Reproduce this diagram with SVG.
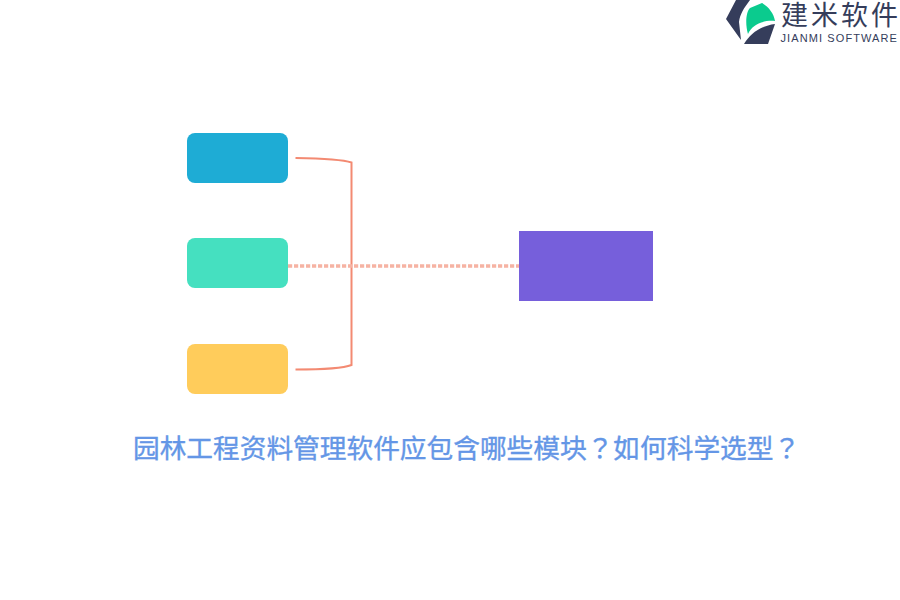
<svg xmlns="http://www.w3.org/2000/svg" width="900" height="600" viewBox="0 0 900 600">
<style>
.conn{fill:none;stroke:#f38a72;stroke-width:2}
.dark{fill:#353d5b}
.cjk{font-family:"Noto Sans CJK SC","Liberation Sans",sans-serif}
</style>
<rect width="900" height="600" fill="#fff"/>
<g id="connectors">
<path class="conn" d="M295.500 158C325 158.500 344 160 351.500 162.500V365C344 368 325 369.500 295.500 369.500"/>
<path d="M288 266H519" fill="none" stroke="#f6b3a3" stroke-width="3.400" stroke-dasharray="4.200 1.800"/>
</g>
<g id="node-blue"><rect x="187" y="133" width="101" height="50" rx="8" fill="#1eacd5"/></g>
<g id="node-green"><rect x="187" y="238" width="101" height="50" rx="8" fill="#45e0c0"/></g>
<g id="node-yellow"><rect x="187" y="344" width="101" height="50" rx="8" fill="#ffcc5b"/></g>
<g id="node-purple"><rect x="519" y="231" width="134" height="70" fill="#765fdb"/></g>
<g id="title"><text x="133" y="458" font-family="'Noto Sans CJK TC','Noto Sans CJK SC',sans-serif" font-size="26.700" fill="#6496e6" stroke="#6496e6" stroke-width="0.350">园林工程资料管理软件应包含哪些模块？如何科学选型？</text></g>
<g id="logo">
<path class="dark" d="M736 0H750C744 8 740 14 739 22L741 40L726 19Z"/>
<path d="M748 34C745 24 746 12 750 8L762 3C769 7 774 14 775 21C762 20 752 25 748 34Z" fill="#0bcb8e"/>
<path class="dark" d="M744 44C750 34 760 26 775 24L768 44Z"/>
<text x="781" y="25" class="cjk dark" font-size="27" letter-spacing="3">建米软件</text>
<text x="780.500" y="42" font-family="Liberation Sans,sans-serif" font-size="11" letter-spacing="1.100" class="dark">JIANMI SOFTWARE</text>
</g>
</svg>
